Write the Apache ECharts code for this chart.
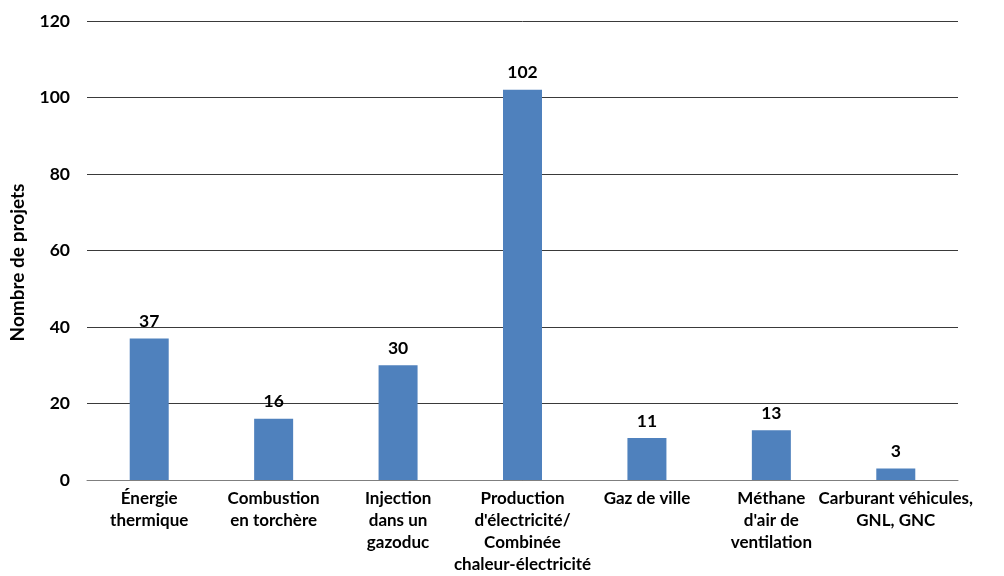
<!DOCTYPE html>
<html><head><meta charset="utf-8">
<script src="https://cdn.jsdelivr.net/npm/echarts@6/dist/echarts.min.js"></script>
<style>html,body{margin:0;padding:0;background:#fff}#c{width:1004px;height:576px}</style>
</head><body><div id="c"></div>
<script>
const categories = ["Énergie\nthermique","Combustion\nen torchère","Injection\ndans un\ngazoduc","Production\nd'électricité/\nCombinée\nchaleur-électricité","Gaz de ville","Méthane\nd'air de\nventilation","Carburant véhicules,\nGNL, GNC"];
const values = [37,16,30,102,11,13,3];
const yTicks = {min:0,max:120,interval:20};
const yName = "Nombre de projets";
const FONT = "Lato";
const chart = echarts.init(document.getElementById('c'));
chart.setOption({
  animation:false,
  grid:{left:86,right:46,top:21,bottom:95},
  xAxis:{type:'category',data:categories,
    axisLine:{lineStyle:{color:'#7f7f7f',width:1}},axisTick:{show:false},
    axisLabel:{interval:0,color:'#000',fontFamily:FONT,fontWeight:'bold',fontSize:17,lineHeight:22,margin:8}},
  yAxis:{type:'value',min:yTicks.min,max:yTicks.max,interval:yTicks.interval,
    name:yName,nameLocation:'middle',nameGap:60,nameRotate:90,
    nameTextStyle:{color:'#000',fontFamily:FONT,fontWeight:'bold',fontSize:19,padding:[0,24,0,0]},
    axisLine:{show:false},axisTick:{show:false},
    splitLine:{lineStyle:{color:'#3a3a3a',width:1}},
    axisLabel:{color:'#000',fontFamily:FONT,fontWeight:'bold',fontSize:17.5,margin:17}},
  series:[{type:'bar',data:values,barWidth:39,
    itemStyle:{color:'#4f81bd'},
    label:{show:true,position:'top',distance:8,color:'#000',fontFamily:FONT,fontWeight:'bold',fontSize:17.5}}]
});
</script></body></html>
